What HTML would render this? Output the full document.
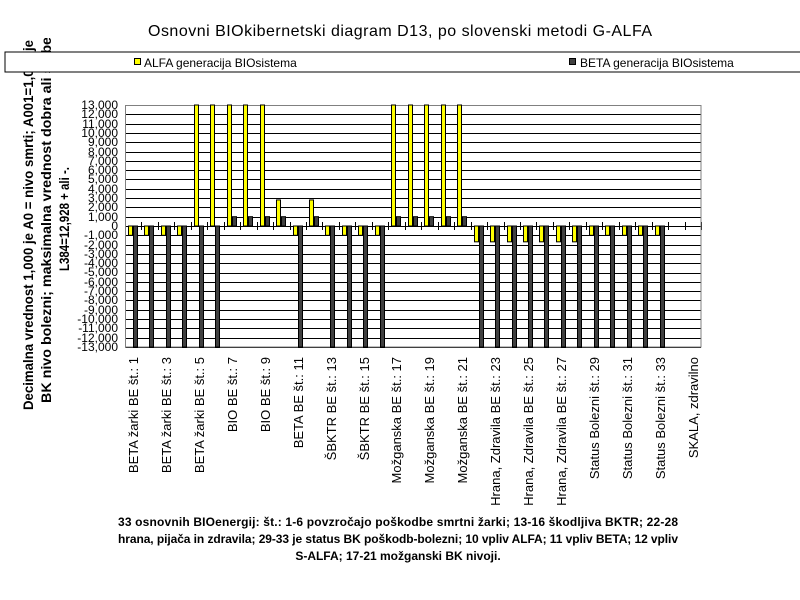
<!DOCTYPE html>
<html><head><meta charset="utf-8"><style>
html,body{margin:0;padding:0;background:#fff;}
svg{display:block;font-family:"Liberation Sans",Arial,sans-serif;}
</style></head><body>
<svg width="800" height="600" viewBox="0 0 800 600" xmlns="http://www.w3.org/2000/svg">
<rect width="800" height="600" fill="#fff"/>
<text x="400" y="36" font-size="16" text-anchor="middle" textLength="504">Osnovni BIOkibernetski diagram D13, po slovenski metodi G-ALFA</text>
<defs><clipPath id="c"><rect x="0" y="38" width="800" height="500"/></clipPath></defs>
<g clip-path="url(#c)" font-weight="bold" font-size="14" text-anchor="middle">
<text transform="translate(33,225) rotate(-90)" textLength="370" lengthAdjust="spacingAndGlyphs">Decimalna vrednost 1,000 je A0 = nivo smrti; A001=1,000 je</text>
<text transform="translate(51,220) rotate(-90)" textLength="366" lengthAdjust="spacingAndGlyphs">BK nivo bolezni; maksimalna vrednost dobra ali slabe</text>
<text transform="translate(69,219) rotate(-90)" textLength="104" lengthAdjust="spacingAndGlyphs">L384=12,928 + ali -.</text>
</g>
<rect x="5" y="52" width="800" height="20" fill="#fff" stroke="#000" stroke-width="1"/>
<rect x="134.5" y="58.5" width="6" height="6" fill="#ffff00" stroke="#000"/>
<text x="144" y="67" font-size="12">ALFA generacija BIOsistema</text>
<rect x="569.5" y="58.5" width="6" height="6" fill="#404040" stroke="#000"/>
<text x="580" y="67" font-size="12">BETA generacija BIOsistema</text>
<g id="grid" stroke="#000" stroke-width="1"></g>
<rect x="125.5" y="105.5" width="575.5" height="241.5" fill="none" stroke="#808080"/>
<g id="bars"></g>
<g font-size="12" text-anchor="end" transform="translate(118,0)">
<text y="109">13,000</text><text y="118">12,000</text><text y="128">11,000</text><text y="137">10,000</text><text y="146">9,000</text><text y="156">8,000</text><text y="165">7,000</text><text y="174">6,000</text><text y="183">5,000</text><text y="193">4,000</text><text y="202">3,000</text><text y="211">2,000</text><text y="221">1,000</text><text y="230">0</text><text y="239">-1,000</text><text y="249">-2,000</text><text y="258">-3,000</text><text y="267">-4,000</text><text y="276">-5,000</text><text y="286">-6,000</text><text y="295">-7,000</text><text y="304">-8,000</text><text y="314">-9,000</text><text y="323">-10,000</text><text y="332">-11,000</text><text y="342">-12,000</text><text y="351">-13,000</text>
</g>
<g font-size="13" text-anchor="end">
<text transform="translate(138,357) rotate(-90)">BETA žarki BE št.: 1</text>
<text transform="translate(171,357) rotate(-90)">BETA žarki BE št.: 3</text>
<text transform="translate(204,357) rotate(-90)">BETA žarki BE št.: 5</text>
<text transform="translate(237,357) rotate(-90)">BIO  BE št.: 7</text>
<text transform="translate(270,357) rotate(-90)">BIO  BE št.: 9</text>
<text transform="translate(303,357) rotate(-90)">BETA BE št.: 11</text>
<text transform="translate(336,357) rotate(-90)">ŠBKTR BE št.: 13</text>
<text transform="translate(369,357) rotate(-90)">ŠBKTR BE št.: 15</text>
<text transform="translate(401,357) rotate(-90)">Možganska  BE št.: 17</text>
<text transform="translate(434,357) rotate(-90)">Možganska  BE št.: 19</text>
<text transform="translate(467,357) rotate(-90)">Možganska  BE št.: 21</text>
<text transform="translate(500,357) rotate(-90)">Hrana, Zdravila BE št.: 23</text>
<text transform="translate(533,357) rotate(-90)">Hrana, Zdravila BE št.: 25</text>
<text transform="translate(566,357) rotate(-90)">Hrana, Zdravila BE št.: 27</text>
<text transform="translate(599,357) rotate(-90)">Status Bolezni št.: 29</text>
<text transform="translate(632,357) rotate(-90)">Status Bolezni št.: 31</text>
<text transform="translate(665,357) rotate(-90)">Status Bolezni št.: 33</text>
<text transform="translate(698,357) rotate(-90)">SKALA, zdravilno</text>
</g>
<g font-size="12" font-weight="bold" text-anchor="middle">
<text x="398" y="526" textLength="560">33 osnovnih BIOenergij: št.: 1-6 povzročajo poškodbe smrtni žarki; 13-16 škodljiva BKTR; 22-28</text>
<text x="398" y="543" textLength="560">hrana, pijača in zdravila; 29-33 je status BK poškodb-bolezni; 10 vpliv ALFA; 11 vpliv BETA; 12 vpliv</text>
<text x="398" y="560">S-ALFA; 17-21 možganski BK nivoji.</text>
</g>
</svg>
<script>
(function(){
var ns="http://www.w3.org/2000/svg";
var g=document.getElementById('grid'),b=document.getElementById('bars');
var zero=226,step=121/13;
function Y(v){return zero-v*step;}
for(var k=-13;k<=13;k++){var l=document.createElementNS(ns,'line');var y=Math.round(Y(k))+0.5;
l.setAttribute('x1',125.5);l.setAttribute('x2',701);l.setAttribute('y1',y);l.setAttribute('y2',y);g.appendChild(l);}
var w=576/35;
for(var i=0;i<=35;i++){var x=Math.round(125+i*w)+0.5;var l=document.createElementNS(ns,'line');
l.setAttribute('x1',x);l.setAttribute('x2',x);l.setAttribute('y1',222);l.setAttribute('y2',230);g.appendChild(l);}
var ya=[-1,-1,-1,-1,13,13,13,13,13,2.8,-1,2.8,-1,-1,-1,-1,13,13,13,13,13,-1.7,-1.7,-1.7,-1.7,-1.7,-1.7,-1.7,-1,-1,-1,-1,-1];
var da=[-13,-13,-13,-13,-13,-13,1,1,1,1,-13,1,-13,-13,-13,-13,1,1,1,1,1,-13,-13,-13,-13,-13,-13,-13,-13,-13,-13,-13,-13];
function bar(x,v,f){var r=document.createElementNS(ns,'rect');var y1=Y(v);var a=Math.min(y1,zero),h=Math.abs(y1-zero);
r.setAttribute('x',x);r.setAttribute('y',a);r.setAttribute('width',4);r.setAttribute('height',h);
r.setAttribute('fill',f);r.setAttribute('stroke','#000');r.setAttribute('stroke-width',1);b.appendChild(r);}
for(var i=0;i<33;i++){var x0=125+i*w;bar(Math.round(x0+3)+0.5,ya[i],'#ffff00');bar(Math.round(x0+8)+0.5,da[i],'#404040');}
})();
</script>
</body></html>
